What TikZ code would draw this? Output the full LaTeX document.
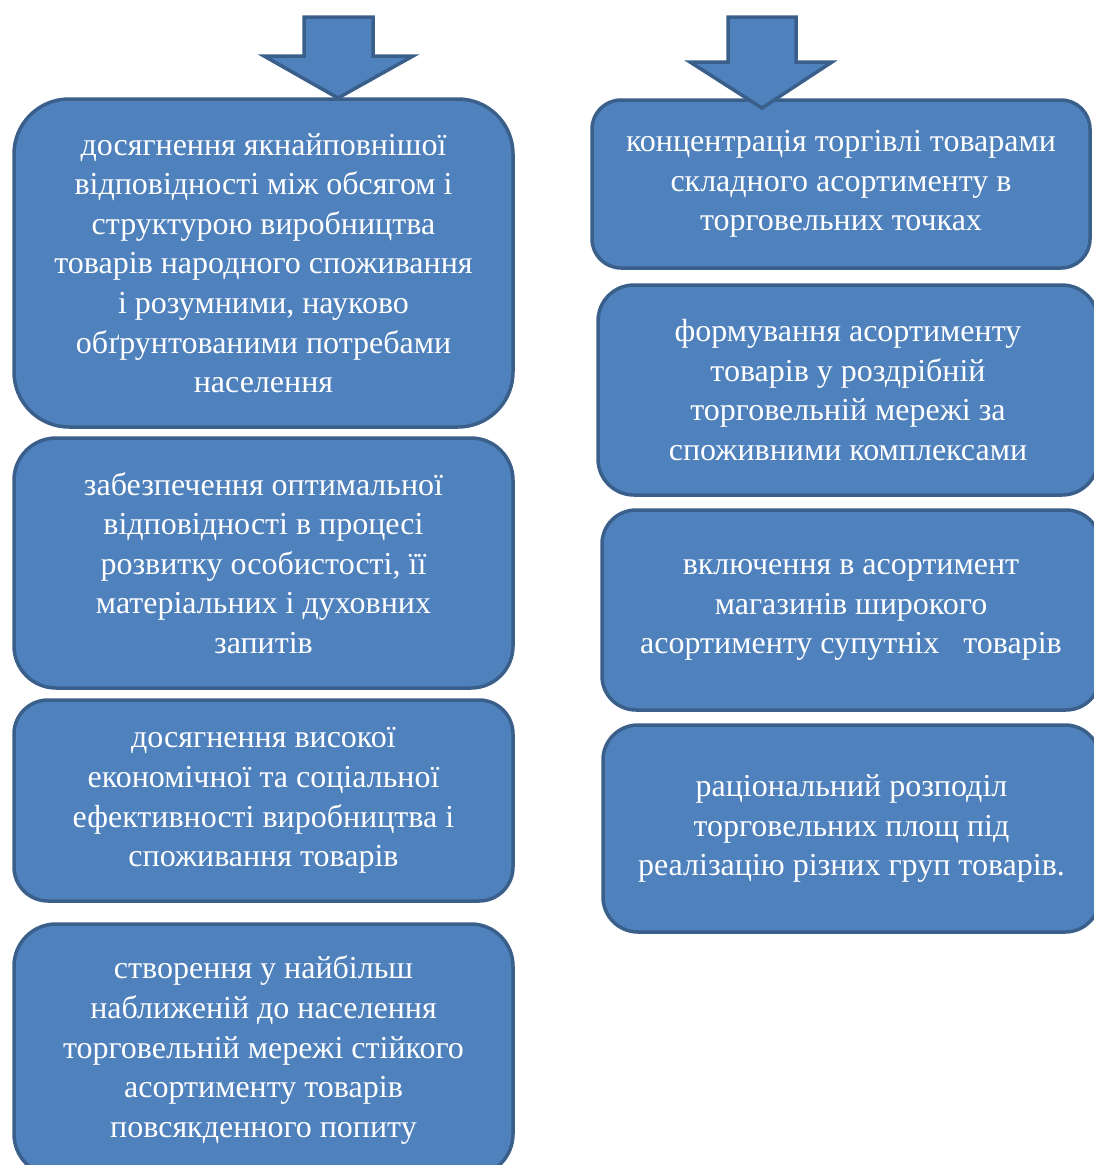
\documentclass[tikz,border=0pt]{standalone}
\usepackage{fontspec}
\setmainfont{Liberation Serif}
\usepackage{xcolor}
\usetikzlibrary{positioning}
\definecolor{boxfill}{HTML}{4F81BD}
\definecolor{boxline}{HTML}{3A5F8B}

\begin{document}
\begin{tikzpicture}[
                x=1pt, y=-1pt,
                block/.style={draw=boxline, fill=boxfill, line width=3.5pt, rounded corners=#1, align=center, text=white, inner sep=0pt, font=\fontsize{32}{39.6}\selectfont},
                blockarrow/.style={draw=boxline, fill=boxfill, line width=3.5pt, line join=miter}
            ]
                \useasboundingbox (0,0) rectangle (1094,1165);

                % Left column
                \node[block=55, minimum width=499, minimum height=328] (goal) at (263.5, 263) {досягнення якнайповнішої\\відповідності між обсягом і\\структурою виробництва\\товарів народного споживання\\і розумними, науково\\обґрунтованими потребами\\населення};

                \node[block=42, minimum width=499, minimum height=250] (develop) at (263.5, 563) {забезпечення оптимальної\\відповідності в процесі\\розвитку особистості, її\\матеріальних і духовних\\запитів};

                \node[block=34, minimum width=499, minimum height=201] (effect) at (263.5, 800.5) {досягнення високої\\економічної та соціальної\\ефективності виробництва і\\споживання товарів};

                \node[block=42, minimum width=499, minimum height=252] (stable) at (263.5, 1050) {створення у найбільш\\наближеній до населення\\торговельній мережі стійкого\\асортименту товарів\\повсякденного попиту};

                % Right column
                \node[block=29, minimum width=498, minimum height=168] (concentr) at (841, 184) {концентрація торгівлі товарами\\складного асортименту в\\торговельних точках};

                \node[block=36, minimum width=500, minimum height=210] (complex) at (848, 390) {формування асортименту\\товарів у роздрібній\\торговельній мережі за\\споживними комплексами};

                \node[block=34, minimum width=498, minimum height=200] (related) at (851, 610) {включення в асортимент\\магазинів широкого\\асортименту супутніх\ \ \ товарів};

                \node[block=35, minimum width=497, minimum height=207] (area) at (851.5, 828.5) {раціональний розподіл\\торговельних площ під\\реалізацію різних груп товарів.};

                % Arrows
                \draw[blockarrow] (304,17) -- (373,17) -- (373,56) -- (413,56) -- (338,98) -- (264,56) -- (304,56) -- cycle;
                \draw[blockarrow] (728,17) -- (796,17) -- (796,62) -- (832,62) -- (762,108) -- (690,62) -- (728,62) -- cycle;
            \end{tikzpicture}
\end{document}
